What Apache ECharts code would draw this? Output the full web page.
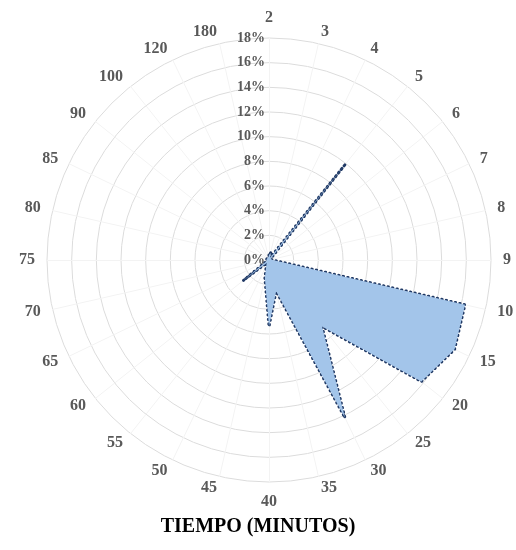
<!DOCTYPE html>
<html>
<head>
<meta charset="utf-8">
<script src="https://cdn.jsdelivr.net/npm/echarts@6/dist/echarts.min.js"></script>
<style>
html,body{margin:0;padding:0;background:#fff;}
#c{width:516px;height:550px;}
</style>
</head>
<body>
<div id="c"></div>
<script>
// Categories (minutes), clockwise from top
const categories = ['2','3','4','5','6','7','8','9','10','15','20','25','30','35','40','45','50','55','60','65','70','75','80','85','90','100','120','180'];
// Percent values per category
const values = [0.4,0.6,0.2,10.0,0.2,0.2,0.2,0.3,16.3,16.7,15.8,6.9,14.2,2.6,5.4,1.5,0.5,0.3,2.7,0.2,0.2,0.2,0.2,0.2,0.2,0.2,0.2,0.2];
const axisMax = 18;
const axisSplits = 9;
const titleText = 'TIEMPO (MINUTOS)';

// ECharts radar runs counter-clockwise; reorder so categories read clockwise
const order = [0].concat(categories.map((_, i) => i).slice(1).reverse());

const chart = echarts.init(document.getElementById('c'), null, {renderer:'canvas'});
const indicator = order.map((idx, k) => {
  const o = {name: categories[idx], min: 0, max: axisMax};
  if (k === 0) {
    o.axisLabel = {show: true, formatter: v => Math.round(v) + '%', color: '#595959',
      fontFamily: 'Liberation Serif', fontWeight: 'bold', fontSize: 14, margin: 4};
  }
  return o;
});
const seriesValues = order.map(idx => values[idx]);
chart.setOption({
  animation: false,
  title: {text: titleText, left: 'center', top: 512,
    textStyle: {fontFamily: 'Liberation Serif', fontWeight: 'bold', fontSize: 20, color: '#000'}},
  radar: {
    center: [269, 260],
    radius: 222,
    startAngle: 90,
    shape: 'circle',
    splitNumber: axisSplits,
    indicator: indicator,
    nameGap: 12,
    axisName: {color: '#595959', fontFamily: 'Liberation Serif', fontWeight: 'bold', fontSize: 16},
    axisLabel: {show: false},
    axisLine: {lineStyle: {color: '#f3f3f3', width: 1}},
    splitLine: {lineStyle: {color: '#dcdcdc', width: 1}},
    splitArea: {show: false}
  },
  series: [{
    type: 'radar',
    symbol: 'none',
    lineStyle: {type: [0.4, 4.2], cap: 'round', width: 3, color: '#1f3864'},
    areaStyle: {color: '#a3c5ea', opacity: 1},
    data: [{value: seriesValues}]
  }]
});
</script>
</body>
</html>
